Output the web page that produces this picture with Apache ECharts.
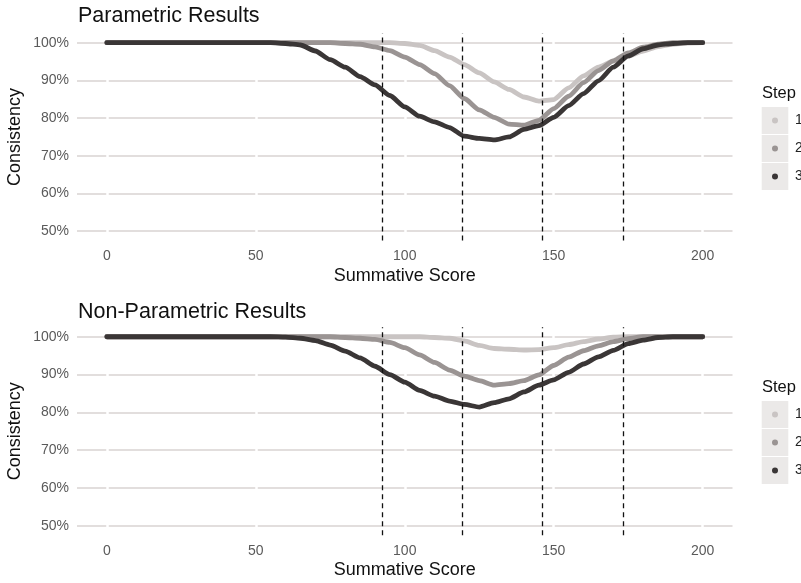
<!DOCTYPE html>
<html>
<head>
<meta charset="utf-8">
<script src="https://cdn.jsdelivr.net/npm/echarts@6/dist/echarts.min.js"></script>
<style>
html,body{margin:0;padding:0;background:#fff;}
#chart{width:801px;height:583px;}
</style>
</head>
<body>
<div id="chart"></div>
<script>
// ---- data ----
const scores = [0,5,10,15,20,25,30,35,40,45,50,55,60,65,70,75,80,85,90,95,100,105,110,115,120,125,130,135,140,145,150,155,160,165,170,175,180,185,190,195,200];
const stepNames = ['1','2','3'];
const panelTitles = ['Parametric Results','Non-Parametric Results'];
const cutpoints = [92.3, 119.2, 146.3, 173.2];
const xTicks = [0,50,100,150,200];
const yTicks = [50,60,70,80,90,100];

const paramStep1 = [100,100,100,100,100,100,100,100,100,100,100,100,100,100,100,100,100,100,100,100,
  99.8,99.3,97.9,96.2,94.2,92.0,89.6,87.6,85.6,84.5,84.9,88.0,91.2,93.5,95.1,96.4,97.8,99.0,99.6,99.9,100];
const paramStep2 = [100,100,100,100,100,100,100,100,100,100,100,100,100,100,100,100,
  99.8,99.6,98.9,97.9,96.2,94.2,91.8,88.6,85.2,82.2,80.2,78.4,78.1,79.4,82.5,85.8,89.4,92.6,95.2,97.3,98.8,99.6,100,100,100];
const paramStep3 = [100,100,100,100,100,100,100,100,100,100,100,100,
  99.8,99.4,97.8,95.5,93.5,91.0,88.8,86.0,83.0,80.5,79.0,77.5,75.2,74.6,74.2,75.0,77.0,78.0,80.2,83.3,86.5,89.9,93.5,96.5,98.4,99.4,99.8,100,100];

const nonparStep1 = [100,100,100,100,100,100,100,100,100,100,100,100,100,100,100,100,100,100,100,100,100,100,
  99.8,99.6,98.9,97.7,96.9,96.7,96.5,96.6,97.1,97.9,98.7,99.4,99.9,100,100,100,100,100,100];
const nonparStep2 = [100,100,100,100,100,100,100,100,100,100,100,100,100,100,100,100,
  99.8,99.6,99.3,98.5,97.1,95.2,93.2,91.2,89.6,88.4,87.2,87.6,88.4,89.9,92.4,94.6,96.3,97.6,98.7,99.5,100,100,100,100,100];
const nonparStep3 = [100,100,100,100,100,100,100,100,100,100,100,100,
  99.9,99.6,99.0,97.8,96.2,94.4,92.2,90.0,88.0,85.8,84.3,83.0,82.1,81.4,82.6,83.6,85.4,87.2,88.6,90.6,92.8,94.7,96.4,98.2,99.1,99.8,100,100,100];

const panels = [
  [paramStep1, paramStep2, paramStep3],
  [nonparStep1, nonparStep2, nonparStep3]
];

// ---- styling / layout ----
const colors = ['#c9c4c3', '#9a9493', '#3a3636'];
const gridColor = '#d9d3d2';
const font = 'Liberation Sans, Arial, sans-serif';
const panelOffset = 294;
const grids = [
  {left: 77, right: 68.5, top: 33.3, height: 207.3, outerBoundsMode: 'none', containLabel: false},
  {left: 77, right: 68.5, top: 33.3 + panelOffset, height: 208, outerBoundsMode: 'none', containLabel: false}
];

const option = {
  animation: false,
  backgroundColor: '#ffffff',
  textStyle: {fontFamily: font},
  title: panelTitles.map((t, i) => ({
    text: t, left: 78, top: 5 + i * panelOffset + (i ? 2 : 0), padding: 0,
    textStyle: {fontSize: 21.5, fontWeight: 'normal', color: '#111', fontFamily: font}
  })),
  grid: grids,
  xAxis: grids.map((g, i) => ({
    type: 'value', gridIndex: i, min: -10, max: 210, z: 1,
    name: 'Summative Score', nameLocation: 'middle', nameGap: 26,
    nameTextStyle: {fontSize: 18, color: '#111', fontFamily: font},
    axisLine: {show: false},
    axisTick: {show: false, customValues: xTicks},
    axisLabel: {customValues: xTicks, fontSize: 14, color: '#5a5a5a', margin: 9, fontFamily: font},
    splitLine: {show: true, lineStyle: {color: '#ffffff', width: 2.5}}
  })),
  yAxis: grids.map((g, i) => ({
    type: 'value', gridIndex: i, min: 47.5, max: 102.5, z: 0,
    name: 'Consistency', nameLocation: 'middle', nameGap: 53, nameRotate: 90, nameMoveOverlap: false,
    nameTextStyle: {fontSize: 18, color: '#111', fontFamily: font},
    axisLine: {show: false},
    axisTick: {show: false, customValues: yTicks},
    axisLabel: {customValues: yTicks, formatter: '{value}%', fontSize: 14, color: '#5a5a5a', margin: 8, fontFamily: font},
    splitLine: {show: true, lineStyle: {color: gridColor, width: 1.6}}
  })),
  legend: grids.map((g, i) => ({
    data: stepNames, orient: 'vertical', left: 772, top: 106.5 + i * panelOffset,
    padding: 0, itemGap: 0, itemWidth: 6, itemHeight: 6, icon: 'circle',
    selectedMode: false,
    textStyle: {fontSize: 14, color: '#222', lineHeight: 28, padding: [0, 0, 0, 12], fontFamily: font}
  })),
  graphic: [],
  series: []
};

// legend title + key backgrounds
grids.forEach((g, i) => {
  const off = i * panelOffset;
  option.graphic.push({
    type: 'text', left: 762, top: 85 + off, z: 1,
    style: {text: 'Step', fontSize: 16.5, fill: '#111', fontFamily: font}
  });
  stepNames.forEach((n, k) => {
    option.graphic.push({
      type: 'rect', left: 761.7, top: 107 + off + k * 28, z: 1,
      shape: {width: 26.6, height: 27}, style: {fill: '#ebe9e8'}
    });
  });
});

panels.forEach((steps, p) => {
  steps.forEach((vals, k) => {
    option.series.push({
      name: stepNames[k], type: 'line', xAxisIndex: p, yAxisIndex: p,
      data: scores.map((s, j) => [s, vals[j]]),
      showSymbol: false, smooth: 0.2, smoothMonotone: 'x',
      lineStyle: {color: colors[k], width: 4.8, cap: 'round', join: 'round'},
      itemStyle: {color: colors[k]},
      z: 2 + k * 0.1, silent: true
    });
  });
  option.series.push({
    name: 'cuts', type: 'line', xAxisIndex: p, yAxisIndex: p, data: [], z: 3, silent: true,
    markLine: {
      silent: true, symbol: ['none', 'none'], label: {show: false},
      lineStyle: {type: [5, 4], color: '#111', width: 1.3},
      data: cutpoints.map(c => ({xAxis: c}))
    }
  });
});

const chart = echarts.init(document.getElementById('chart'), null, {renderer: 'canvas'});
chart.setOption(option);
</script>
</body>
</html>
